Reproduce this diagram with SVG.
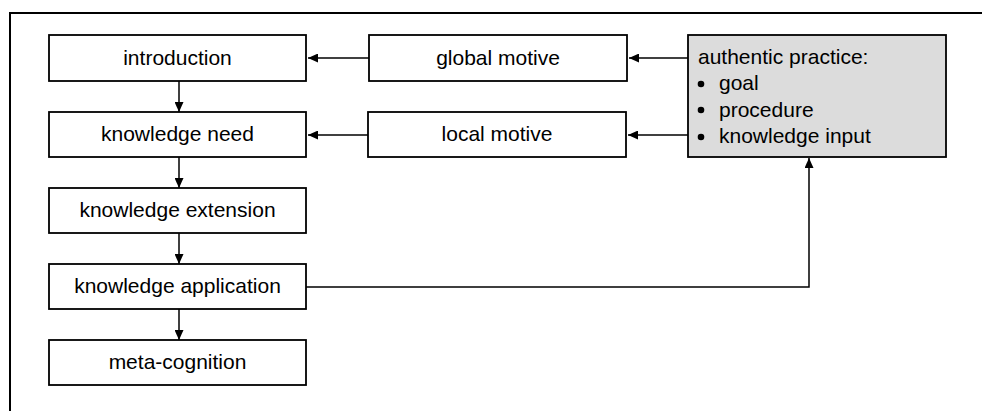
<svg xmlns="http://www.w3.org/2000/svg" width="982" height="411" viewBox="0 0 982 411">
<style>
.box{fill:#ffffff;stroke:#000000;stroke-width:1.8}
.grey{fill:#dcdcdc;stroke:#000000;stroke-width:1.8}
.lbl{font-family:"Liberation Sans",Arial,sans-serif;font-size:21px;fill:#000000}
.c{text-anchor:middle}
.edge{fill:none;stroke:#000000;stroke-width:1.5}
</style>
<defs>
<marker id="arr" viewBox="0 0 10 9" refX="10" refY="4.5" markerWidth="10" markerHeight="9" markerUnits="userSpaceOnUse" orient="auto">
<path d="M0,0 L10,4.5 L0,9 Z" fill="#000000"/>
</marker>
</defs>
<path d="M10,411 V13 H982" fill="none" stroke="#000000" stroke-width="2"/>
<g id="connectors">
<line class="edge" x1="179" y1="81" x2="179" y2="112" marker-end="url(#arr)"/>
<line class="edge" x1="179" y1="157" x2="179" y2="188" marker-end="url(#arr)"/>
<line class="edge" x1="179" y1="233" x2="179" y2="264" marker-end="url(#arr)"/>
<line class="edge" x1="179" y1="309" x2="179" y2="340" marker-end="url(#arr)"/>
<line class="edge" x1="369" y1="58" x2="308" y2="58" marker-end="url(#arr)"/>
<line class="edge" x1="368" y1="135" x2="308" y2="135" marker-end="url(#arr)"/>
<line class="edge" x1="688" y1="58" x2="629" y2="58" marker-end="url(#arr)"/>
<line class="edge" x1="688" y1="135" x2="628" y2="135" marker-end="url(#arr)"/>
<path class="edge" d="M306,287 H809 V158" marker-end="url(#arr)"/>
</g>
<g id="introduction">
<rect class="box" x="49" y="35" width="257" height="46"/>
<text class="lbl c" x="177.5" y="64.5">introduction</text>
</g>
<g id="knowledge-need">
<rect class="box" x="49" y="112" width="257" height="45"/>
<text class="lbl c" x="177.5" y="141">knowledge need</text>
</g>
<g id="knowledge-extension">
<rect class="box" x="49" y="188" width="257" height="45"/>
<text class="lbl c" x="177.5" y="217">knowledge extension</text>
</g>
<g id="knowledge-application">
<rect class="box" x="49" y="264" width="257" height="45"/>
<text class="lbl c" x="177.5" y="293">knowledge application</text>
</g>
<g id="meta-cognition">
<rect class="box" x="49" y="340" width="257" height="45"/>
<text class="lbl c" x="177.5" y="369">meta-cognition</text>
</g>
<g id="global-motive">
<rect class="box" x="369" y="35" width="258" height="46"/>
<text class="lbl c" x="498" y="64.5">global motive</text>
</g>
<g id="local-motive">
<rect class="box" x="368" y="112" width="258" height="45"/>
<text class="lbl c" x="497" y="141">local motive</text>
</g>
<g id="authentic-practice">
<rect class="grey" x="688" y="35" width="258" height="122"/>
<text class="lbl" x="698" y="64">authentic practice:</text>
<circle cx="701" cy="84" r="3.3" fill="#000000"/>
<circle cx="701" cy="110" r="3.3" fill="#000000"/>
<circle cx="701" cy="137" r="3.3" fill="#000000"/>
<text class="lbl" x="719" y="90">goal</text>
<text class="lbl" x="719" y="116.5">procedure</text>
<text class="lbl" x="719" y="143">knowledge input</text>
</g>
</svg>
